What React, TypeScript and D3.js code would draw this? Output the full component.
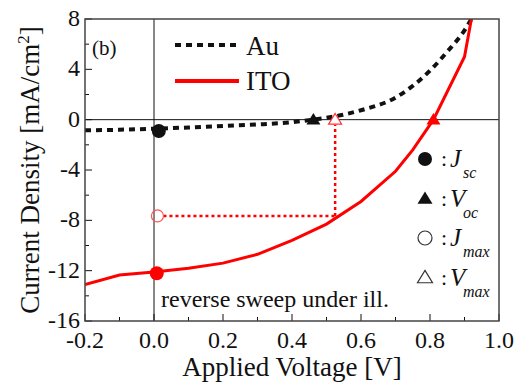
import React from "react";
import * as d3 from "d3";

// Au electrode (dashed black)
const auVoltage = [-0.2, -0.1, 0.0, 0.1, 0.2, 0.3, 0.4, 0.46, 0.5, 0.6, 0.7, 0.8, 0.85, 0.9, 0.92];
const auCurrent = [-0.85, -0.8, -0.72, -0.62, -0.5, -0.38, -0.2, 0.0, 0.15, 0.75, 1.75, 3.9, 5.4, 7.1, 8.0];

// ITO electrode (solid red)
const itoVoltage = [-0.2, -0.1, 0.0, 0.1, 0.2, 0.3, 0.4, 0.5, 0.6, 0.7, 0.75, 0.81, 0.9, 0.92];
const itoCurrent = [-13.1, -12.35, -12.1, -11.8, -11.4, -10.7, -9.6, -8.3, -6.5, -4.1, -2.4, 0.0, 5.0, 8.0];

// characteristic points
const jscAu = { v: 0.014, j: -0.9 };
const jscIto = { v: 0.008, j: -12.2 };
const vocAu = { v: 0.462, j: 0.0 };
const vocIto = { v: 0.81, j: 0.0 };
const jmaxIto = { v: 0.01, j: -7.65 };
const vmaxIto = { v: 0.525, j: 0.0 };

const xTicks = [-0.2, 0.0, 0.2, 0.4, 0.6, 0.8, 1.0];
const xMinor = [-0.1, 0.1, 0.3, 0.5, 0.7, 0.9];
const yTicks = [-16, -12, -8, -4, 0, 4, 8];
const yMinor = [-14, -10, -6, -2, 2, 6];

const W = 516;
const H = 383;
const margin = { top: 19, right: 17, bottom: 62, left: 85 };
const serif = "Liberation Serif, Times New Roman, Times, serif";
const ink = "#111";

const fmtX = (t: number) => t.toFixed(1);

export default function App() {
  const x = d3.scaleLinear().domain([-0.2, 1.0]).range([margin.left, W - margin.right]);
  const y = d3.scaleLinear().domain([-16, 8]).range([H - margin.bottom, margin.top]);

  const line = d3
    .line<[number, number]>()
    .x((d) => x(d[0]))
    .y((d) => y(d[1]));

  const smooth = d3
    .line<[number, number]>()
    .x((d) => x(d[0]))
    .y((d) => y(d[1]))
    .curve(d3.curveMonotoneX);

  const auPath = smooth(auVoltage.map((v, i) => [v, auCurrent[i]]));
  const itoPath = line(itoVoltage.map((v, i) => [v, itoCurrent[i]]));

  const tri = (cx: number, cy: number, s: number) =>
    `M${cx},${cy - s * 0.95}L${cx + s},${cy + s * 0.7}L${cx - s},${cy + s * 0.7}Z`;

  const x0 = x.range()[0];
  const x1 = x.range()[1];
  const y0 = y.range()[1];
  const y1 = y.range()[0];

  const legendMarks = [
    { kind: "circle", fill: ink, main: "J", sub: "sc" },
    { kind: "tri", fill: ink, main: "V", sub: "oc" },
    { kind: "circle", fill: "none", main: "J", sub: "max" },
    { kind: "tri", fill: "none", main: "V", sub: "max" },
  ];

  const txt = { fontFamily: serif, fill: ink } as React.CSSProperties;

  return (
    <>
      <style>{`body{margin:0} svg text{font-family:${serif};}`}</style>
      <svg width={W} height={H} style={{ display: "block", background: "#fff" }}>
        <defs>
          <clipPath id="plot">
            <rect x={x0} y={y0} width={x1 - x0} height={y1 - y0} />
          </clipPath>
        </defs>

        {/* zero lines */}
        <line x1={x(0)} x2={x(0)} y1={y0} y2={y1} stroke={ink} strokeWidth={1} />
        <line x1={x0} x2={x1} y1={y(0)} y2={y(0)} stroke={ink} strokeWidth={1} />

        {/* ticks */}
        {xTicks.map((t) => (
          <line key={"xt" + t} x1={x(t)} x2={x(t)} y1={y1} y2={y1 - 7} stroke={ink} />
        ))}
        {xMinor.map((t) => (
          <line key={"xm" + t} x1={x(t)} x2={x(t)} y1={y1} y2={y1 - 4} stroke={ink} />
        ))}
        {yTicks.map((t) => (
          <line key={"yt" + t} x1={x0} x2={x0 + 7} y1={y(t)} y2={y(t)} stroke={ink} />
        ))}
        {yMinor.map((t) => (
          <line key={"ym" + t} x1={x0} x2={x0 + 4} y1={y(t)} y2={y(t)} stroke={ink} />
        ))}

        {/* tick labels */}
        {xTicks.map((t) => (
          <text key={"xl" + t} x={x(t)} y={y1 + 27} textAnchor="middle" fontSize={24} style={txt}>
            {fmtX(t)}
          </text>
        ))}
        {yTicks.map((t) => (
          <text key={"yl" + t} x={x0 - 5} y={y(t) + 7} textAnchor="end" fontSize={24} style={txt}>
            {String(t)}
          </text>
        ))}

        {/* axis titles */}
        <text x={(x0 + x1) / 2} y={376} textAnchor="middle" fontSize={27} style={txt}>
          Applied Voltage [V]
        </text>
        <text
          transform={`translate(39,${(y0 + y1) / 2}) rotate(-90)`}
          textAnchor="middle"
          fontSize={27}
          style={txt}
        >
          Current Density [mA/cm
          <tspan dy={-10} fontSize={17}>2</tspan>
          <tspan dy={10}>]</tspan>
        </text>

        {/* curves */}
        <g clipPath="url(#plot)">
          <path d={auPath ?? ""} fill="none" stroke={ink} strokeWidth={4} strokeDasharray="6 5" />
          <path d={itoPath ?? ""} fill="none" stroke="#f00" strokeWidth={3} />
        </g>

        {/* max power guide lines */}
        <line
          x1={x(jmaxIto.v) + 6}
          x2={x(vmaxIto.v)}
          y1={y(jmaxIto.j)}
          y2={y(jmaxIto.j)}
          stroke="#f00"
          strokeWidth={2.5}
          strokeDasharray="3 3"
        />
        <line
          x1={x(vmaxIto.v)}
          x2={x(vmaxIto.v)}
          y1={y(jmaxIto.j)}
          y2={y(vmaxIto.j) + 5}
          stroke="#f00"
          strokeWidth={2.5}
          strokeDasharray="3 3"
        />

        {/* markers */}
        <circle cx={x(jscAu.v)} cy={y(jscAu.j)} r={7} fill={ink} />
        <circle cx={x(jscIto.v)} cy={y(jscIto.j)} r={7} fill="#f00" />
        <path d={tri(x(vocAu.v), y(vocAu.j), 7)} fill={ink} />
        <path d={tri(x(vocIto.v), y(vocIto.j), 7)} fill="#f00" />
        <circle cx={x(jmaxIto.v)} cy={y(jmaxIto.j)} r={6} fill="none" stroke="#f55" strokeWidth={1.2} />
        <path d={tri(x(vmaxIto.v), y(vmaxIto.j), 6.5)} fill="#fff" stroke="#f33" strokeWidth={1.2} />

        {/* frame */}
        <rect x={x0} y={y0} width={x1 - x0} height={y1 - y0} fill="none" stroke="#444" strokeWidth={1.5} />

        {/* panel label */}
        <text x={92} y={55} fontSize={21} style={txt}>
          (b)
        </text>

        {/* line legend */}
        <line x1={175} x2={239} y1={45} y2={45} stroke={ink} strokeWidth={4} strokeDasharray="6 5" />
        <text x={246} y={55} fontSize={27} style={txt}>
          Au
        </text>
        <line x1={175} x2={239} y1={81} y2={81} stroke="#f00" strokeWidth={4} />
        <text x={246} y={90} fontSize={27} style={txt}>
          ITO
        </text>

        {/* marker legend */}
        {legendMarks.map((m, i) => {
          const cy = 159 + i * 39.5;
          return (
            <g key={"lm" + i}>
              {m.kind === "circle" ? (
                <circle cx={425} cy={cy} r={7} fill={m.fill} stroke={m.fill === "none" ? "#333" : "none"} strokeWidth={1.2} />
              ) : (
                <path d={tri(425, cy, 7.5)} fill={m.fill} stroke={m.fill === "none" ? "#333" : "none"} strokeWidth={1.2} />
              )}
              <text x={441} y={cy + 7} fontSize={22} style={txt}>
                :
              </text>
              <text x={450} y={cy + 8} fontStyle="italic" fontSize={25} style={txt}>
                {m.main}
              </text>
              <text x={463} y={cy + 19} fontStyle="italic" fontSize={16} style={txt}>
                {m.sub}
              </text>
            </g>
          );
        })}

        {/* note */}
        <text x={161} y={307} fontSize={24} style={txt}>
          reverse sweep under ill.
        </text>
      </svg>
    </>
  );
}
